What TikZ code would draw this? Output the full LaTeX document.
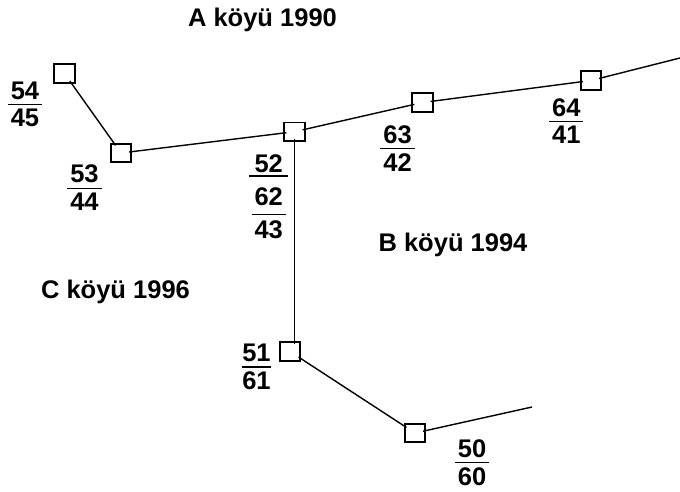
\documentclass[tikz,border=0pt]{standalone}
\usepackage{fontspec}
\setmainfont{Liberation Sans}
\newcommand\frc[3][3pt]{\vbox{\offinterlineskip\halign{\kern#1\hfil##\hfil\kern#1\cr#2\cr\noalign{\kern4.25pt\hrule height1.5pt\kern4.25pt}#3\cr}}}
\newcommand\frcthree[3]{\vbox{\offinterlineskip\halign{\hfil##\hfil\cr
#1\cr\noalign{\kern2.6pt}
\omit\hfil\vrule width39pt height1.5pt\hfil\cr\noalign{\kern11pt}
#2\cr\noalign{\kern8.5pt}
\omit\hfil\vrule width34pt height1pt\hfil\cr\noalign{\kern5.5pt}
#3\cr}}}
\tikzset{
  txt/.style={font=\bfseries\fontsize{25.5}{30}\selectfont, inner sep=0pt},
  pole/.style={draw, line width=1.6pt, minimum width=20.5pt, minimum height=18.5pt, inner sep=0pt},
  wire/.style={line width=1.4pt, shorten <=-3pt, shorten >=-3pt},
}
\begin{document}
\begin{tikzpicture}[x=1pt,y=-1pt]
\useasboundingbox (0,0) rectangle (680,491);
% poles
\node[pole] (b54) at (64.5,73.5) {};
\node[pole] (b53) at (121,153) {};
\node[pole] (b52) at (294.5,131.7) {};
\node[pole] (b63) at (422.5,102.5) {};
\node[pole] (b64) at (591,80.5) {};
\node[pole] (b51) at (290,351.5) {};
\node[pole] (b50) at (415,433) {};
\coordinate (e1) at (680,58);
\coordinate (e2) at (532,407);
% wires
\draw[wire] (b54) -- (b53);
\draw[wire] (b53) -- (b52);
\draw[wire] (b52) -- (b63);
\draw[wire] (b63) -- (b64);
\draw[wire, shorten >=0pt] (b64) -- (e1);
\draw[wire] (b52) -- (b52 |- b51.north);
\draw[wire] (b51) -- (b50);
\draw[wire, shorten >=0pt] (b50) -- (e2);
% labels
\node[txt, anchor=base] (ta) at (262.5,26) {A köyü 1990};
\node[txt, anchor=base] (tb) at (453,251) {B köyü 1994};
\node[txt, anchor=base] (tc) at (115.5,298) {C köyü 1996};
\node[txt] (f54) at (25,104.3) {\frc{54}{45}};
\node[txt] (f53) at (84.5,188) {\frc{53}{44}};
\node[txt] (f63) at (397.5,148.3) {\frc{63}{42}};
\node[txt] (f64) at (566.3,121) {\frc{64}{41}};
\node[txt] (f51) at (256.5,367.3) {\frc[0.5pt]{51}{61}};
\node[txt] (f50) at (472,462.7) {\frc{50}{60}};
\node[txt, anchor=north] (f52) at (268.7,154.3) {\frcthree{52}{62}{43}};
\end{tikzpicture}
\end{document}
